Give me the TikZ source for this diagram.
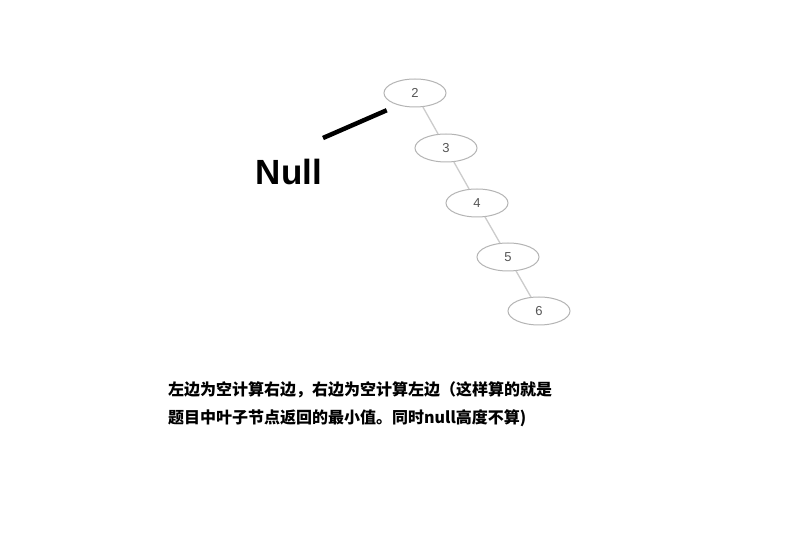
\documentclass[tikz,border=0pt]{standalone}
\usepackage{fontspec}
\setmainfont{Liberation Sans}
\newfontfamily\cjkfont{Noto Sans CJK SC}
\usetikzlibrary{shapes.geometric}
\definecolor{ringgray}{HTML}{B4B4B4}
\definecolor{edgegray}{HTML}{CCCCCC}
\definecolor{digitgray}{HTML}{555555}
\tikzset{
  tnode/.style={ellipse,draw=ringgray,line width=1pt,fill=white,minimum width=62pt,minimum height=28pt,inner sep=0pt,text=digitgray,font=\fontsize{13}{13}\selectfont},
  tedge/.style={draw=edgegray,line width=1.3pt},
  nullline/.style={draw=black,line width=4.5pt},
  note/.style={font=\cjkfont\bfseries\fontsize{16}{28}\selectfont,align=left,anchor=west,inner sep=0pt}
}
\begin{document}
\begin{tikzpicture}[x=1pt,y=-1pt]
  \useasboundingbox[fill=white] (0,0) rectangle (788,534);
  \node[tnode] (n2) at (415,93) {2};
  \node[tnode] (n3) at (446,148) {3};
  \node[tnode] (n4) at (477,203) {4};
  \node[tnode] (n5) at (508,257) {5};
  \node[tnode] (n6) at (539,311) {6};
  \draw[tedge] (n2)--(n3); \draw[tedge] (n3)--(n4); \draw[tedge] (n4)--(n5); \draw[tedge] (n5)--(n6);
  \coordinate (nullend) at (323,138);
  \draw[nullline] ([shift={(-6,7)}]n2.south west)--(nullend);
  \node[font=\bfseries\fontsize{35}{35}\selectfont,inner sep=0pt] (nulltxt) at (289,172) {Null};
  \node[note] (msg) at (168,404) {左边为空计算右边，右边为空计算左边（这样算的就是\\题目中叶子节点返回的最小值。同时null高度不算)};
\end{tikzpicture}
\end{document}
